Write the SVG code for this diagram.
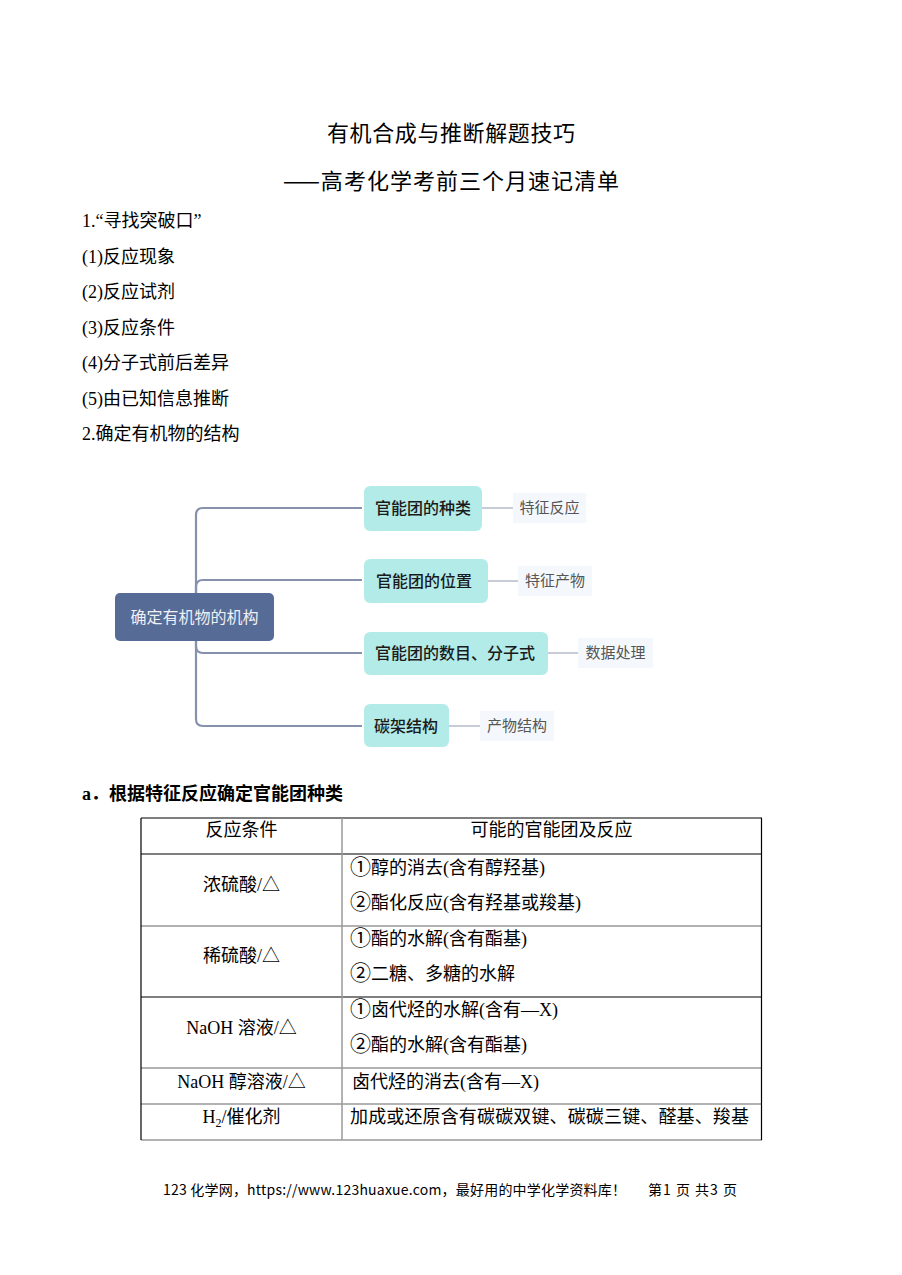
<svg xmlns="http://www.w3.org/2000/svg" width="902" height="1275" viewBox="0 0 902 1275">
<style>
.t{font-family:"Liberation Serif","Noto Sans CJK SC",serif;font-size:18px;fill:#000}
.h{font-family:"Noto Sans CJK SC","Liberation Sans",sans-serif;font-size:22px;fill:#000;font-weight:400}
.b{font-family:"Liberation Serif","Noto Sans CJK SC",serif;font-size:18px;font-weight:bold;fill:#000}
.c{text-anchor:middle}
.n{font-size:21px}
.node rect{fill:#b3ebe9}
.node text{font-family:"Noto Sans CJK SC","Liberation Sans",sans-serif;font-size:16px;fill:#1a1a1a;font-weight:500}
.leaf rect{fill:#f4f8fc}
.leaf text{font-family:"Noto Sans CJK SC","Liberation Sans",sans-serif;font-size:15px;fill:#555}
.trunk{fill:none;stroke:#8591ad;stroke-width:2.2}
.thin{stroke:#a3aabb;stroke-width:1.2}
.grid{stroke:#000;stroke-width:1.2}
.gridg{stroke:#999;stroke-width:1.5}
.f{font-family:"Noto Sans CJK SC","Liberation Sans",sans-serif;font-size:14px;fill:#000}
</style>
<rect width="902" height="1275" fill="#fff"/>

<text class="h" x="327" y="141" textLength="248" lengthAdjust="spacing">有机合成与推断解题技巧</text>
<text class="h" x="283" y="189" textLength="336" lengthAdjust="spacing">——高考化学考前三个月速记清单</text>

<text class="t" x="82" y="227">1.“寻找突破口”</text>
<text class="t" x="82" y="263">(1)反应现象</text>
<text class="t" x="82" y="298">(2)反应试剂</text>
<text class="t" x="82" y="334">(3)反应条件</text>
<text class="t" x="82" y="369">(4)分子式前后差异</text>
<text class="t" x="82" y="405">(5)由已知信息推断</text>
<text class="t" x="82" y="440">2.确定有机物的结构</text>

<g id="connectors">
<path class="trunk" d="M362,508 H203 Q196,508 196,515 V719 Q196,726 203,726 H362"/>
<path class="trunk" d="M196,595 V587 Q196,580 203,580 H362"/>
<path class="trunk" d="M196,640 V646 Q196,653 203,653 H362"/>
<line class="thin" x1="482" y1="508" x2="513" y2="508"/>
<line class="thin" x1="488" y1="581" x2="518" y2="581"/>
<line class="thin" x1="548" y1="653" x2="578" y2="653"/>
<line class="thin" x1="449" y1="726" x2="480" y2="726"/>
</g>

<g id="root">
<rect x="115" y="593" width="159" height="48" rx="5" fill="#576b97"/>
<text x="194.5" y="623" text-anchor="middle" font-family="Liberation Serif,Noto Sans CJK SC,serif" font-size="16" fill="#eef0f5">确定有机物的机构</text>
</g>

<g id="n1" class="node"><rect x="364" y="486" width="118" height="45" rx="6"/><text x="423" y="514" class="c">官能团的种类</text></g>
<g id="n2" class="node"><rect x="364" y="559" width="124" height="44" rx="6"/><text x="424" y="587" class="c">官能团的位置</text></g>
<g id="n3" class="node"><rect x="364" y="632" width="184" height="43" rx="6"/><text x="455" y="659" class="c">官能团的数目、分子式</text></g>
<g id="n4" class="node"><rect x="364" y="704" width="85" height="43" rx="6"/><text x="406" y="732" class="c">碳架结构</text></g>

<g id="l1" class="leaf"><rect x="513" y="493" width="73" height="30"/><text x="549.5" y="513" class="c">特征反应</text></g>
<g id="l2" class="leaf"><rect x="518" y="566" width="74" height="30"/><text x="555" y="586" class="c">特征产物</text></g>
<g id="l3" class="leaf"><rect x="578" y="638" width="75" height="30"/><text x="615.5" y="658" class="c">数据处理</text></g>
<g id="l4" class="leaf"><rect x="480" y="711" width="74" height="30"/><text x="517" y="731" class="c">产物结构</text></g>

<text class="b" x="82" y="800">a．根据特征反应确定官能团种类</text>

<g id="table">
<line class="grid" x1="141" y1="818" x2="762" y2="818"/>
<line class="grid" x1="141" y1="854" x2="762" y2="854"/>
<line class="gridg" x1="141" y1="926" x2="762" y2="926"/>
<line class="grid" x1="141" y1="997" x2="762" y2="997"/>
<line class="gridg" x1="141" y1="1068" x2="762" y2="1068"/>
<line class="gridg" x1="141" y1="1104" x2="762" y2="1104"/>
<line class="gridg" x1="141" y1="1140" x2="762" y2="1140"/>
<line class="grid" x1="141" y1="818" x2="141" y2="1140"/>
<line class="gridg" x1="342" y1="818" x2="342" y2="1140"/>
<line class="grid" x1="761.5" y1="818" x2="761.5" y2="1140"/>

<text class="t c" x="241.5" y="836">反应条件</text>
<text class="t c" x="551.5" y="836">可能的官能团及反应</text>

<text class="t c" x="241.5" y="891">浓硫酸/△</text>
<text class="t" x="350" y="874"><tspan class="n">①</tspan>醇的消去(含有醇羟基)</text>
<text class="t" x="350" y="909"><tspan class="n">②</tspan>酯化反应(含有羟基或羧基)</text>

<text class="t c" x="241.5" y="962">稀硫酸/△</text>
<text class="t" x="350" y="945"><tspan class="n">①</tspan>酯的水解(含有酯基)</text>
<text class="t" x="350" y="980"><tspan class="n">②</tspan>二糖、多糖的水解</text>

<text class="t c" x="241.5" y="1034">NaOH 溶液/△</text>
<text class="t" x="350" y="1016"><tspan class="n">①</tspan>卤代烃的水解(含有—X)</text>
<text class="t" x="350" y="1051"><tspan class="n">②</tspan>酯的水解(含有酯基)</text>

<text class="t c" x="241.5" y="1088">NaOH 醇溶液/△</text>
<text class="t" x="352" y="1088">卤代烃的消去(含有—X)</text>

<text class="t c" x="241.5" y="1123">H<tspan font-size="12" dy="4">2</tspan><tspan dy="-4">/催化剂</tspan></text>
<text class="t" x="350" y="1123" textLength="399" lengthAdjust="spacing">加成或还原含有碳碳双键、碳碳三键、醛基、羧基</text>
</g>

<text class="f" x="163" y="1195" textLength="463" lengthAdjust="spacing">123 化学网，https://www.123huaxue.com，最好用的中学化学资料库！</text>
<text class="f" x="648" y="1195" textLength="89" lengthAdjust="spacing">第1 页 共3 页</text>
</svg>
